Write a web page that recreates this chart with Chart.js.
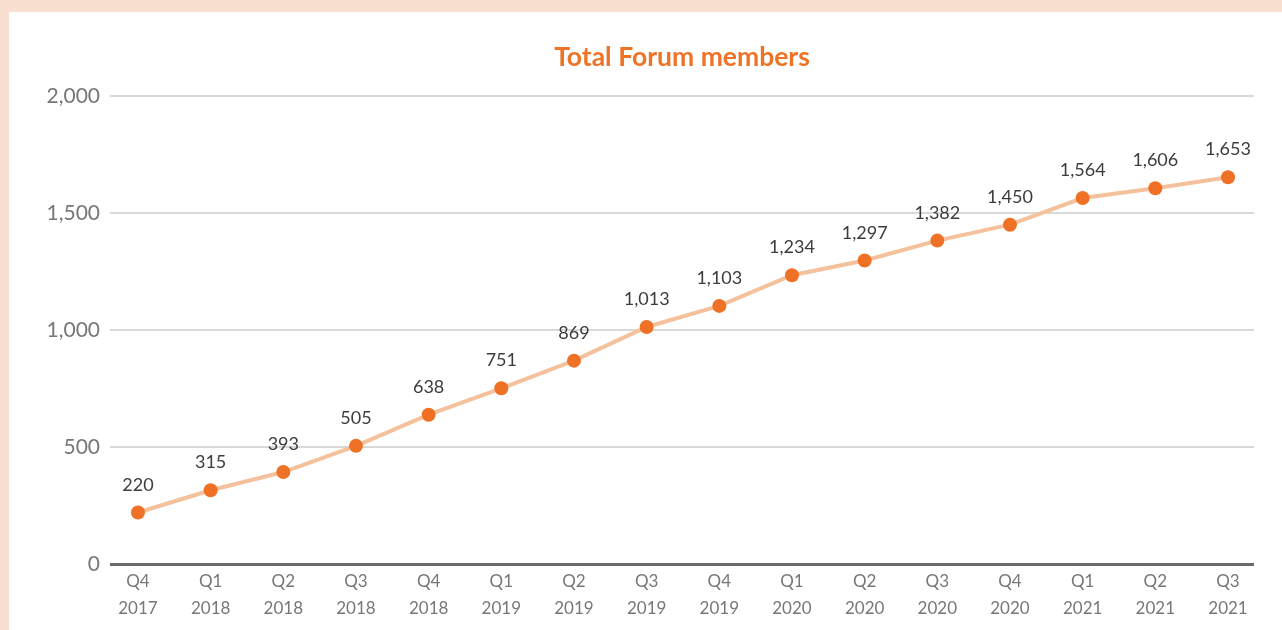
<!DOCTYPE html>
<html>
<head>
<meta charset="utf-8">
<script src="https://cdn.jsdelivr.net/npm/chart.js@4.4.1/dist/chart.umd.min.js"></script>
<style>
  html, body { margin: 0; padding: 0; background: #f9dfcf; }
  .panel {
    position: absolute; left: 9px; top: 12px;
    width: 1273px; height: 618px; background: #ffffff;
  }
  canvas { display: block; }
</style>
</head>
<body>
<div class="panel"><canvas id="chart" width="1273" height="618"></canvas></div>
<script>
const quarters = ['Q4', 'Q1', 'Q2', 'Q3', 'Q4', 'Q1', 'Q2', 'Q3', 'Q4', 'Q1', 'Q2', 'Q3', 'Q4', 'Q1', 'Q2', 'Q3'];
const years = ['2017', '2018', '2018', '2018', '2018', '2019', '2019', '2019', '2019', '2020', '2020', '2020', '2020', '2021', '2021', '2021'];
const members = [220, 315, 393, 505, 638, 751, 869, 1013, 1103, 1234, 1297, 1382, 1450, 1564, 1606, 1653];
const chartTitle = 'Total Forum members';

const labels = quarters.map((q, i) => [q, years[i]]);

// draws the value above every point and the title centred on the plot
const valueLabels = {
  id: 'valueLabels',
  afterDatasetsDraw(chart) {
    const ctx = chart.ctx;
    const meta = chart.getDatasetMeta(0);
    ctx.save();
    ctx.font = '18px Lato';
    ctx.fillStyle = '#3c3c3c';
    ctx.textAlign = 'center';
    ctx.textBaseline = 'alphabetic';
    meta.data.forEach((pt, i) => {
      ctx.fillText(members[i].toLocaleString('en-US'), pt.x, pt.y - 22);
    });
    ctx.restore();
  },
  afterDraw(chart) {
    const ctx = chart.ctx;
    const area = chart.chartArea;
    ctx.save();
    ctx.font = 'bold 26.5px Lato';
    ctx.fillStyle = '#ef7327';
    ctx.textAlign = 'center';
    ctx.textBaseline = 'middle';
    ctx.fillText(chartTitle, (area.left + area.right) / 2, 45);
    ctx.restore();
  },
};

new Chart(document.getElementById('chart').getContext('2d'), {
  type: 'line',
  data: {
    labels: labels,
    datasets: [{
      data: members.map((v, i) => ({ x: i, y: v })),
      borderColor: '#f5c19c',
      borderWidth: 4,
      pointBackgroundColor: '#ef7125',
      pointBorderWidth: 0,
      pointRadius: 7,
      tension: 0,
    }],
  },
  options: {
    responsive: false,
    animation: false,
    layout: { padding: { left: 0, right: 28, top: 84, bottom: 0 } },
    plugins: {
      legend: { display: false },
      tooltip: { enabled: false },
    },
    scales: {
      x: {
        type: 'linear',
        min: -0.385,
        max: 15.358,
        afterBuildTicks: (scale) => {
          scale.ticks = labels.map((_, i) => ({ value: i }));
        },
        afterFit: (scale) => { scale.height = 66; },
        grid: { display: false },
        border: { display: false },
        ticks: {
          autoSkip: false,
          maxRotation: 0,
          padding: -4,
          color: '#777777',
          font: { family: 'Lato', size: 17, lineHeight: 1.6 },
          callback: (value) => labels[value],
        },
      },
      y: {
        min: 0,
        max: 2000,
        afterFit: (scale) => { scale.width = 101; },
        border: { display: false },
        grid: {
          drawTicks: false,
          color: (ctx) => (ctx.tick.value === 0 ? '#6b6b6b' : '#d9d9d9'),
          lineWidth: (ctx) => (ctx.tick.value === 0 ? 3 : 2),
        },
        ticks: {
          stepSize: 500,
          padding: 10,
          color: '#777777',
          font: { family: 'Lato', size: 21 },
          callback: (value) => value.toLocaleString('en-US'),
        },
      },
    },
  },
  plugins: [valueLabels],
});
</script>
</body>
</html>
